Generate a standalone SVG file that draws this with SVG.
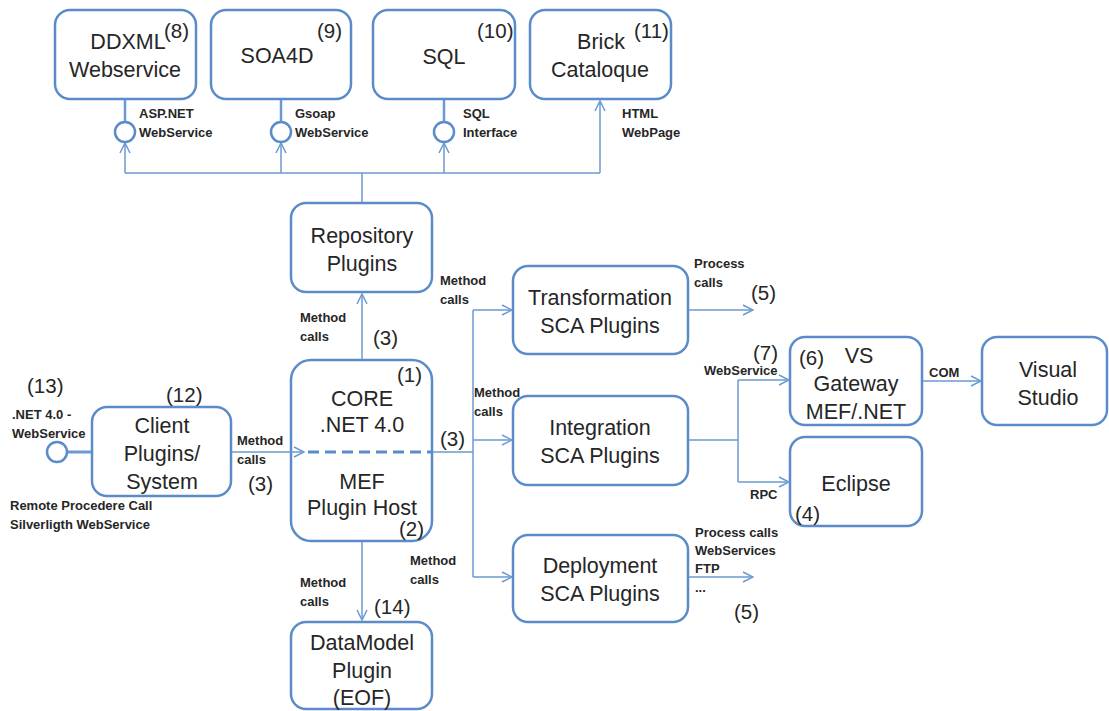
<svg xmlns="http://www.w3.org/2000/svg" width="1109" height="711" viewBox="0 0 1109 711">
<style>
.box{fill:#fff;stroke:#5b8cc9;stroke-width:2.5}
.t{font-family:"Liberation Sans",Arial,sans-serif;font-size:21.5px;fill:#262626;text-anchor:middle}
.n{font-family:"Liberation Sans",Arial,sans-serif;font-size:20.5px;fill:#262626}
.s{font-family:"Liberation Sans",Arial,sans-serif;font-size:13px;font-weight:bold;fill:#262626}
.c{fill:none;stroke:#6b9ad2;stroke-width:1.5}
.lp{fill:#fff;stroke:#5b8cc9;stroke-width:2.5}
</style>
<defs>
<marker id="a" viewBox="0 0 12 12" refX="11" refY="6" markerWidth="12" markerHeight="12" markerUnits="userSpaceOnUse" orient="auto">
<path d="M1,1 L11,6 L1,11" fill="none" stroke="#6b9ad2" stroke-width="1.5"/>
</marker>
</defs>
<g id="ddxml">
<rect class="box" x="55" y="10" width="141" height="89" rx="15"/>
<text class="t" x="128" y="49">DDXML</text>
<text class="t" x="125" y="77">Webservice</text>
<text class="n" x="164" y="38">(8)</text>
</g>
<g id="soa4d">
<rect class="box" x="211" y="10" width="140" height="89" rx="15"/>
<text class="t" x="277" y="63">SOA4D</text>
<text class="n" x="317" y="38">(9)</text>
</g>
<g id="sql">
<rect class="box" x="373" y="10" width="142" height="89" rx="15"/>
<text class="t" x="444" y="64">SQL</text>
<text class="n" x="477" y="38">(10)</text>
</g>
<g id="brick">
<rect class="box" x="530" y="10" width="141" height="89" rx="15"/>
<text class="t" x="601" y="49">Brick</text>
<text class="t" x="600" y="77">Cataloque</text>
<text class="n" x="634" y="38">(11)</text>
</g>
<g id="repository">
<rect class="box" x="291" y="203" width="141" height="89" rx="15"/>
<text class="t" x="362" y="243">Repository</text>
<text class="t" x="362" y="271">Plugins</text>
</g>
<g id="core">
<rect class="box" x="291" y="360" width="141" height="181" rx="20"/>
<text class="n" x="397" y="382">(1)</text>
<text class="t" x="362" y="406">CORE</text>
<text class="t" x="362" y="432">.NET 4.0</text>
<text class="t" x="362" y="489">MEF</text>
<text class="t" x="362" y="515">Plugin Host</text>
<text class="n" x="399" y="536">(2)</text>
</g>
<g id="client">
<rect class="box" x="92" y="407" width="139" height="89" rx="15"/>
<text class="n" x="166" y="402">(12)</text>
<text class="t" x="162" y="433">Client</text>
<text class="t" x="162" y="461">Plugins/</text>
<text class="t" x="162" y="489">System</text>
</g>
<g id="transformation">
<rect class="box" x="513" y="266" width="175" height="88" rx="15"/>
<text class="t" x="600" y="305">Transformation</text>
<text class="t" x="600" y="333">SCA Plugins</text>
</g>
<g id="integration">
<rect class="box" x="513" y="396" width="175" height="89" rx="15"/>
<text class="t" x="600" y="435">Integration</text>
<text class="t" x="600" y="463">SCA Plugins</text>
</g>
<g id="deployment">
<rect class="box" x="513" y="535" width="175" height="87" rx="15"/>
<text class="t" x="600" y="573">Deployment</text>
<text class="t" x="600" y="601">SCA Plugins</text>
</g>
<g id="vsgateway">
<rect class="box" x="790" y="337" width="132" height="88" rx="15"/>
<text class="n" x="799" y="365">(6)</text>
<text class="t" x="859" y="363">VS</text>
<text class="t" x="856" y="391">Gateway</text>
<text class="t" x="856" y="419">MEF/.NET</text>
</g>
<g id="visualstudio">
<rect class="box" x="982" y="337" width="125" height="88" rx="15"/>
<text class="t" x="1048" y="377">Visual</text>
<text class="t" x="1048" y="405">Studio</text>
</g>
<g id="eclipse">
<rect class="box" x="790" y="437" width="132" height="89" rx="15"/>
<text class="t" x="856" y="491">Eclipse</text>
<text class="n" x="795" y="521">(4)</text>
</g>
<g id="datamodel">
<rect class="box" x="291" y="622" width="141" height="87" rx="15"/>
<text class="t" x="362" y="650">DataModel</text>
<text class="t" x="362" y="678">Plugin</text>
<text class="t" x="362" y="705">(EOF)</text>
</g>
<g id="connectors">
<path class="c" d="M125,100 V122" style="stroke-width:2.5"/>
<path class="c" d="M281,100 V122" style="stroke-width:2.5"/>
<path class="c" d="M444,100 V122" style="stroke-width:2.5"/>
<path class="c" d="M125,173 H600"/>
<path class="c" d="M125,173 V143" marker-end="url(#a)"/>
<path class="c" d="M281,173 V143" marker-end="url(#a)"/>
<path class="c" d="M444,173 V143" marker-end="url(#a)"/>
<path class="c" d="M600,173 V101" marker-end="url(#a)"/>
<path class="c" d="M362,173 V202"/>
<path class="c" d="M362,359 V294" marker-end="url(#a)"/>
<path class="c" d="M362,542 V620" marker-end="url(#a)"/>
<path class="c" d="M67,452 H91" style="stroke-width:3"/>
<path class="c" d="M232,452 H304" marker-end="url(#a)"/>
<path d="M308,452 H432" fill="none" stroke="#5b8cc9" stroke-width="3" stroke-dasharray="11,6"/>
<path class="c" d="M433,452 H473"/>
<path class="c" d="M473,310 V577"/>
<path class="c" d="M473,310 H512" marker-end="url(#a)"/>
<path class="c" d="M473,440 H512" marker-end="url(#a)"/>
<path class="c" d="M473,577 H512" marker-end="url(#a)"/>
<path class="c" d="M689,310 H753" marker-end="url(#a)"/>
<path class="c" d="M689,577 H753" marker-end="url(#a)"/>
<path class="c" d="M689,440 H738"/>
<path class="c" d="M738,380 V482"/>
<path class="c" d="M738,380 H789" marker-end="url(#a)"/>
<path class="c" d="M738,482 H789" marker-end="url(#a)"/>
<path class="c" d="M923,381 H981" marker-end="url(#a)"/>
<circle class="lp" cx="125" cy="132" r="10"/>
<circle class="lp" cx="281" cy="132" r="10"/>
<circle class="lp" cx="444" cy="132" r="10"/>
<circle class="lp" cx="57" cy="452" r="10"/>
<text class="s" x="139" y="118">ASP.NET</text>
<text class="s" x="139" y="137">WebService</text>
<text class="s" x="295" y="118">Gsoap</text>
<text class="s" x="295" y="137">WebService</text>
<text class="s" x="463" y="118">SQL</text>
<text class="s" x="463" y="137">Interface</text>
<text class="s" x="622" y="118">HTML</text>
<text class="s" x="622" y="137">WebPage</text>
<text class="s" x="300" y="322">Method</text>
<text class="s" x="300" y="341">calls</text>
<text class="n" x="373" y="345">(3)</text>
<text class="s" x="237" y="445">Method</text>
<text class="s" x="237" y="464">calls</text>
<text class="n" x="248" y="491">(3)</text>
<text class="n" x="440" y="446">(3)</text>
<text class="s" x="440" y="285">Method</text>
<text class="s" x="440" y="304">calls</text>
<text class="s" x="474" y="397">Method</text>
<text class="s" x="474" y="416">calls</text>
<text class="s" x="410" y="565">Method</text>
<text class="s" x="410" y="584">calls</text>
<text class="s" x="300" y="587">Method</text>
<text class="s" x="300" y="606">calls</text>
<text class="n" x="374" y="614">(14)</text>
<text class="s" x="694" y="268">Process</text>
<text class="s" x="694" y="287">calls</text>
<text class="n" x="751" y="300">(5)</text>
<text class="s" x="704" y="375">WebService</text>
<text class="n" x="753" y="360">(7)</text>
<text class="s" x="750" y="499">RPC</text>
<text class="s" x="929" y="377">COM</text>
<text class="s" x="695" y="537">Process calls</text>
<text class="s" x="695" y="555">WebServices</text>
<text class="s" x="695" y="573">FTP</text>
<text class="s" x="695" y="592">...</text>
<text class="n" x="734" y="619">(5)</text>
<text class="n" x="27" y="393">(13)</text>
<text class="s" x="12" y="419">.NET 4.0 -</text>
<text class="s" x="12" y="438">WebService</text>
<text class="s" x="10" y="510">Remote Procedere Call</text>
<text class="s" x="10" y="529">Silverligth WebService</text>
</g>
</svg>
